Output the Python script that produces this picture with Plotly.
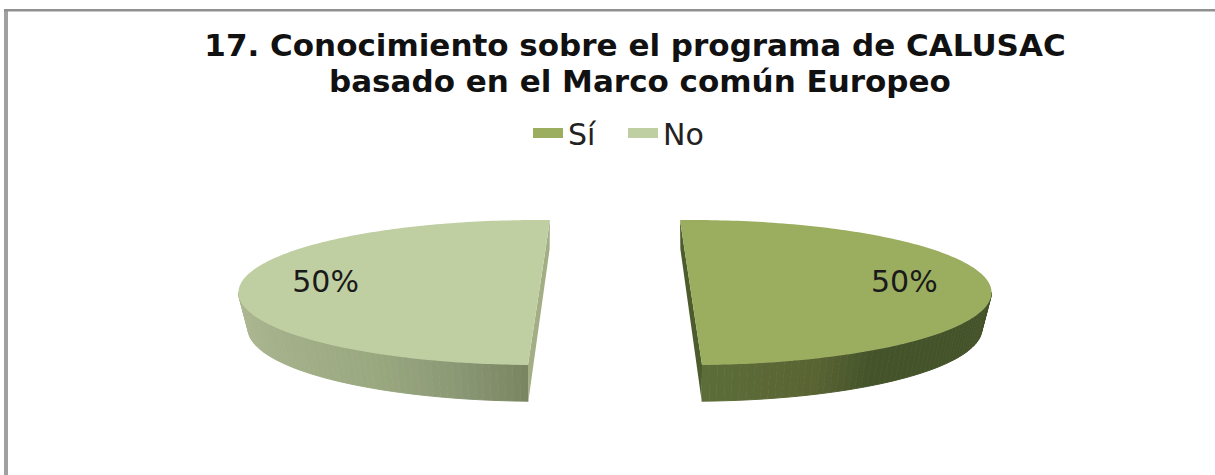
import numpy as np
import plotly.graph_objects as go

# Survey shares
categories = ["Sí", "No"]
shares = [50, 50]
title_lines = ["17. Conocimiento sobre el programa de CALUSAC",
               "basado en el Marco común Europeo"]

W, H = 1215, 475
TOP_COLORS = {"Sí": "#9bae5f", "No": "#c0cfa2"}
EDGE_COLORS = {"Sí": "#4c5c2c", "No": "#a3ae84"}
RIM_STOPS = {
    "Sí": [(0.0, "#5c6d39"), (0.25, "#5a6433"), (0.4, "#44532a"), (1.0, "#445228")],
    "No": [(0.0, "#7a8662"), (0.15, "#8b9875"), (0.35, "#9aa880"), (1.0, "#adb892")],
}

# Pie geometry in units of the ellipse radius; the axes below turn the units into pixels
RX_PX, RY_PX = 300.5, 72.5
CENTER_X_PX, CENTER_Y_PX = 615, 292.5
EXPLODE = 0.253
DEPTH = 0.5
BOTTOM_SCALE = 0.968
START = {"Sí": 92.1, "No": 87.9}
DIRECTION = {"Sí": -1, "No": 1}
RIM_BANDS = 60


def hex_rgb(c):
    return np.array([int(c[i:i + 2], 16) for i in (1, 3, 5)], dtype=float)


def mix(stops, f):
    for (a, ca), (b, cb) in zip(stops, stops[1:]):
        if f <= b:
            k = (f - a) / (b - a)
            r, g, bl = (1 - k) * hex_rgb(ca) + k * hex_rgb(cb)
            return f"rgb({r:.0f},{g:.0f},{bl:.0f})"
    return stops[-1][1]


fig = go.Figure()
total = sum(shares)

for name, share in zip(categories, shares):
    sign = DIRECTION[name]
    cx = -EXPLODE * sign
    sweep = 360 * share / total * sign
    t0, t1 = START[name], START[name] + sweep
    ts = np.radians(np.linspace(t0, t1, 181))
    top_x = cx + np.cos(ts)
    top_y = np.sin(ts)

    # Cut face running along the exploded edge
    ends = np.radians([t0, t1])
    fig.add_trace(go.Scatter(
        x=[cx + np.cos(ends[0]), cx + np.cos(ends[1]),
           cx + BOTTOM_SCALE * np.cos(ends[1]), cx + BOTTOM_SCALE * np.cos(ends[0])],
        y=[np.sin(ends[0]), np.sin(ends[1]),
           np.sin(ends[1]) - DEPTH, np.sin(ends[0]) - DEPTH * 0.8],
        fill="toself", mode="none", fillcolor=EDGE_COLORS[name],
        showlegend=False, hoverinfo="skip"))

    # Outer rim, split into bands for the shading across the front
    rim_deg = np.linspace(t1, 180 if name == "No" else 0, RIM_BANDS + 1)
    for i in range(RIM_BANDS):
        color = mix(RIM_STOPS[name], i / (RIM_BANDS - 1))
        seg = np.radians(np.linspace(rim_deg[i], rim_deg[i + 1], 4))
        fig.add_trace(go.Scatter(
            x=np.r_[cx + np.cos(seg), (cx + BOTTOM_SCALE * np.cos(seg))[::-1]],
            y=np.r_[np.sin(seg), (np.sin(seg) - DEPTH)[::-1]],
            fill="toself", mode="lines", line=dict(width=1, color=color),
            fillcolor=color, showlegend=False, hoverinfo="skip"))

    # Top face
    fig.add_trace(go.Scatter(
        x=np.r_[cx, top_x, cx], y=np.r_[0, top_y, 0],
        fill="toself", mode="none", fillcolor=TOP_COLORS[name],
        showlegend=False, hoverinfo="skip"))

    # Legend entry carrying the slice colour
    fig.add_trace(go.Scatter(
        x=[None], y=[None], mode="lines", name=name,
        line=dict(color=TOP_COLORS[name], width=12), hoverinfo="skip"))

    # Percentage label sitting on the slice
    fig.add_trace(go.Scatter(
        x=[cx - sign * 0.71], y=[0.105], mode="text",
        text=[f"{round(100 * share / total)}%"],
        textfont=dict(family="DejaVu Sans", size=30, color="#1a1a1a"),
        showlegend=False, hoverinfo="skip"))

title_font = dict(family="DejaVu Sans", size=31, color="#111111", weight="bold")
border = "#a0a0a0"
fig.update_layout(
    width=W, height=H,
    margin=dict(l=0, r=0, t=0, b=0),
    paper_bgcolor="white", plot_bgcolor="white",
    xaxis=dict(range=[-CENTER_X_PX / RX_PX, (W - CENTER_X_PX) / RX_PX], visible=False, domain=[0, 1]),
    yaxis=dict(range=[(CENTER_Y_PX - H) / RY_PX, CENTER_Y_PX / RY_PX], visible=False, domain=[0, 1]),
    title=dict(text=title_lines[0], x=635 / W, xanchor="center", y=1 - 45 / H, yanchor="middle",
               font=title_font),
    annotations=[dict(text=title_lines[1], xref="paper", yref="paper", x=640 / W, y=1 - 81 / H,
                      xanchor="center", yanchor="middle", showarrow=False, font=title_font)],
    legend=dict(orientation="h", x=528 / W, xanchor="left", y=1 - 133 / H, yanchor="middle",
                font=dict(family="DejaVu Sans", size=30, color="#222222"), itemwidth=30,
                entrywidth=50, entrywidthmode="pixels", bgcolor="rgba(0,0,0,0)"),
    shapes=[
        dict(type="rect", xref="paper", yref="paper", x0=4 / W, x1=8 / W, y0=0, y1=1 - 9 / H,
             fillcolor=border, line_width=0),
        dict(type="rect", xref="paper", yref="paper", x0=4 / W, x1=1, y0=1 - 11.5 / H, y1=1 - 9 / H,
             fillcolor="#909090", line_width=0),
    ],
)

fig.write_html("out.html")
